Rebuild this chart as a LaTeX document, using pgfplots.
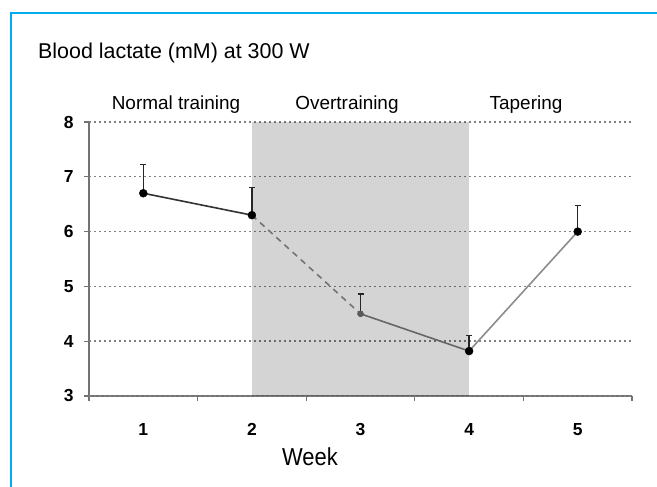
\documentclass[border=0pt]{standalone}
\usepackage{pgfplots}
\pgfplotsset{compat=1.18}
\usepackage{fontspec}
\setmainfont{Liberation Sans}
\definecolor{frameblue}{RGB}{0,172,236}
\begin{document}
\begin{tikzpicture}
\path[use as bounding box] (0,0) rectangle (657bp,487bp);
\draw[line width=2.6bp, frameblue] (11bp,-10bp) -- (11bp,474bp) -- (680bp,474bp);
\node[anchor=base west, font=\fontsize{21.5}{21.5}\selectfont, inner sep=0pt] at (38bp,428bp) {Blood lactate (mM) at 300 W};
\node[anchor=base, font=\fontsize{19}{19}\selectfont, inner sep=0pt] at (176bp,377bp) {Normal training};
\node[anchor=base, font=\fontsize{19}{19}\selectfont, inner sep=0pt] at (347bp,377bp) {Overtraining};
\node[anchor=base, font=\fontsize{19}{19}\selectfont, inner sep=0pt] at (526bp,377bp) {Tapering};
\node[anchor=base, font=\fontsize{22}{22}\selectfont, inner sep=0pt] at (310bp,22bp) {\scalebox{1}[1.12]{Week}};
\begin{axis}[
  at={(89bp,91bp)}, anchor=south west,
  scale only axis, width=543bp, height=274bp,
  xmin=0.5, xmax=5.5, ymin=3, ymax=8,
  axis x line=bottom, axis y line=left,
  axis line style={line width=1.3bp, black!55, -},
  xtick={1,2,3,4,5}, minor xtick={0.5,1.5,2.5,3.5,4.5,5.5},
  ytick={3,4,5,6,7,8},
  major tick length=0pt,
  minor tick length=5bp,
  tick align=outside,
  minor tick style={line width=1.2bp, black!55},
  extra y ticks={3,4,5,6,7,8}, extra y tick labels={},
  extra y tick style={major tick length=5bp, tick style={line width=1.2bp, black!55}},
  ymajorgrids,
  major grid style={line width=1.4bp, black!50, dash pattern=on 2.2bp off 2.8bp},
  /pgf/number format/assume math mode=true,
  tick label style={font=\fontsize{17.5}{17.5}\selectfont\bfseries},
  xticklabel style={yshift=-24bp},
  yticklabel style={xshift=-12bp},
  clip=false,
]
\addplot[draw=none, fill=black, fill opacity=0.17] coordinates {(2,3) (4,3) (4,8) (2,8)} -- cycle;
% segments
\addplot[line width=1.6bp, black!80, no marks] coordinates {(1,6.7) (2,6.3)};
\addplot[line width=1.6bp, black!55, dash pattern=on 6bp off 5bp, no marks] coordinates {(2,6.3) (3,4.5)};
\addplot[line width=1.6bp, black!60, no marks] coordinates {(3,4.5) (4,3.82)};
\addplot[line width=1.6bp, black!45, no marks] coordinates {(4,3.82) (5,6.0)};
% error bars
\addplot[only marks, mark=none, line width=1.5bp, black!85,
  error bars/.cd, y dir=plus, y explicit,
  error bar style={line width=1.5bp, black!85},
  error mark options={rotate=90, mark size=3bp, line width=1.2bp}]
  coordinates {(1,6.7) +- (0,0.53) (2,6.3) +- (0,0.5) (3,4.5) +- (0,0.36) (4,3.82) +- (0,0.28) (5,6.0) +- (0,0.47)};
% markers
\addplot[only marks, mark=*, mark size=4bp, black] coordinates {(1,6.7) (2,6.3) (4,3.82) (5,6.0)};
\addplot[only marks, mark=*, mark size=3bp, black!65, mark options={draw=black!65}] coordinates {(3,4.5)};
\end{axis}
\end{tikzpicture}
\end{document}
